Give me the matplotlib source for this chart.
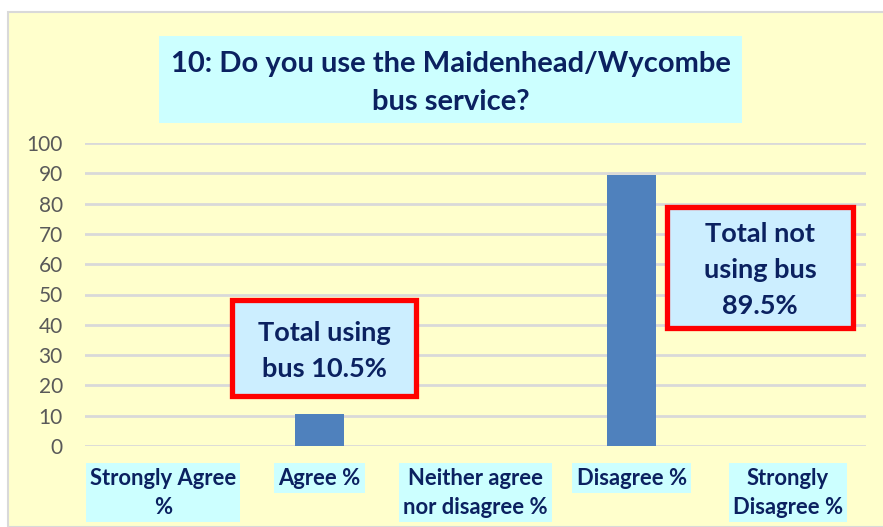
import matplotlib.pyplot as plt
from matplotlib.patches import Rectangle

# data
categories = ["Strongly Agree\n%", "Agree %", "Neither agree\nnor disagree %",
              "Disagree %", "Strongly\nDisagree %"]
values = [0, 10.5, 0, 89.5, 0]
yticks = [0, 10, 20, 30, 40, 50, 60, 70, 80, 90, 100]

title = "10: Do you use the Maidenhead/Wycombe\nbus service?"
note_using = "Total using\nbus 10.5%"
note_not = "Total not\nusing bus\n89.5%"

W, H = 883, 527
navy = "#0B2160"
yellow = "#FFFFCC"
cyan = "#CCFFFF"
box_blue = "#CCEEFF"

plt.rcParams['font.family'] = ['Lato', 'DejaVu Sans']

fig = plt.figure(figsize=(W / 100, H / 100), dpi=100, facecolor="white")

# chart area background with thin gray border
fig.patches.append(Rectangle((8 / W, 0), 1, 1 - 12 / H, transform=fig.transFigure,
                             facecolor=yellow, edgecolor="#D9D9D9", linewidth=1.5,
                             zorder=-2))

ax = fig.add_axes([85 / W, 1 - 446 / H, (866 - 85) / W, (446 - 143) / H])
ax.set_facecolor("none")
ax.set_zorder(1)

x = list(range(len(categories)))
ax.bar(x, values, width=0.315, color="#4F81BD", zorder=3)

ax.set_xlim(-0.5, len(categories) - 0.5)
ax.set_ylim(0, 100)
ax.set_yticks(yticks)
ax.yaxis.grid(True, color="#D9D9D9", linewidth=2)
ax.set_axisbelow(True)
for s in ax.spines.values():
    s.set_visible(False)
ax.tick_params(axis="both", length=0)
ax.tick_params(axis="y", labelsize=15, labelcolor="#595959", pad=16)

ax.set_xticks(x)
ax.set_xticklabels(categories, fontsize=15.8, fontweight="bold", color=navy,
                   linespacing=1.5)
ax.tick_params(axis="x", pad=15.5)
for lbl in ax.get_xticklabels():
    lbl.set_bbox(dict(facecolor=cyan, edgecolor="none", pad=3))

# title box
fig.patches.append(Rectangle((159 / W, 1 - 123 / H), (742 - 159) / W, 87 / H,
                             transform=fig.transFigure, facecolor=cyan,
                             edgecolor="none", zorder=-1))
fig.text(451 / W, 1 - 83 / H, title, ha="center", va="center", fontsize=21,
         fontweight="bold", color=navy, linespacing=1.55, zorder=2)

# annotation boxes
for (x0, y0, x1, y1), txt in [((232, 300, 416, 396), note_using),
                              ((667, 207, 853, 328), note_not)]:
    ax.add_patch(Rectangle((x0 / W, 1 - y1 / H), (x1 - x0) / W, (y1 - y0) / H,
                           transform=fig.transFigure, facecolor=box_blue,
                           edgecolor="#FF0000", linewidth=3.8, zorder=4,
                           clip_on=False))
    ax.text((x0 + x1) / 2 / W, 1 - ((y0 + y1) / 2 + 3) / H, txt, ha="center",
            va="center", fontsize=19.5, fontweight="bold", color=navy,
            linespacing=1.6, zorder=5, transform=fig.transFigure)

fig.savefig("out.png", dpi=100, facecolor="white")
